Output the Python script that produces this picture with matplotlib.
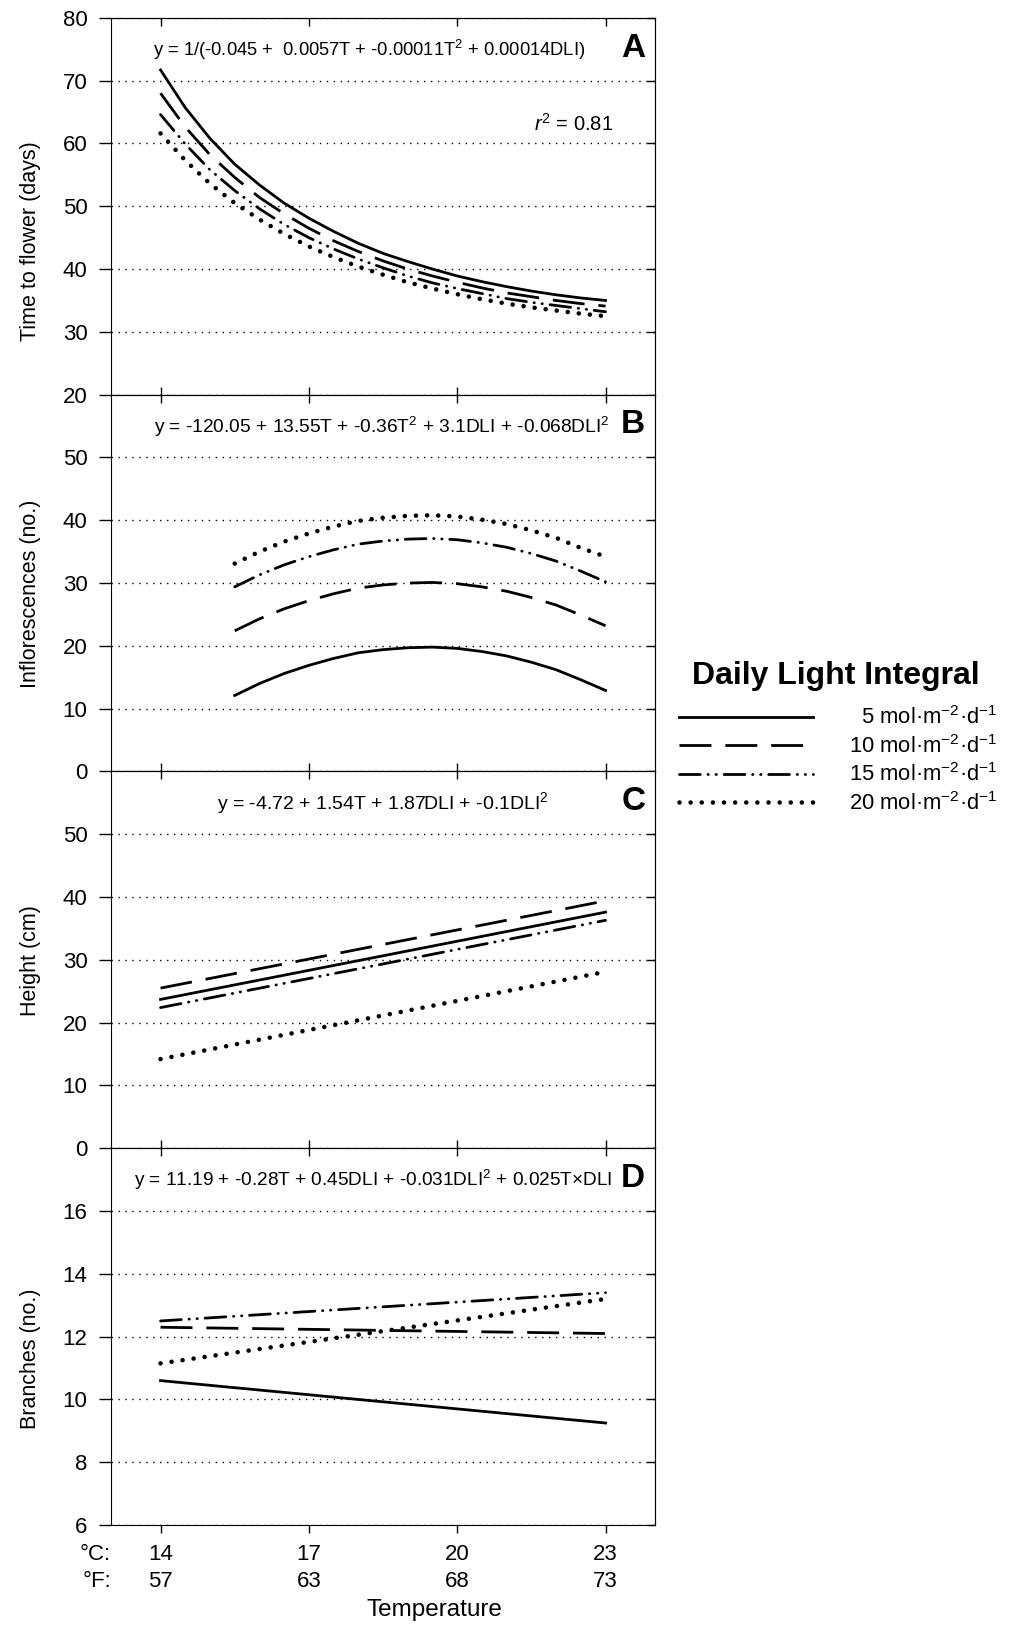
import matplotlib
matplotlib.use('Agg')
import matplotlib.pyplot as plt

plt.rcParams['font.family'] = ['Liberation Sans', 'DejaVu Sans']
plt.rcParams['mathtext.fontset'] = 'custom'
plt.rcParams['mathtext.rm'] = 'Liberation Sans'
plt.rcParams['mathtext.it'] = 'Liberation Sans:italic'
plt.rcParams['lines.scale_dashes'] = False

# temperature (C) and matching F labels
t_ticks = [14, 17, 20, 23]
f_ticks = [57, 63, 68, 73]
dli = [5, 10, 15, 20]

# A: time to flower (days), read every 0.5 C from 14 to 23
t_a = [14, 14.5, 15, 15.5, 16, 16.5, 17, 17.5, 18, 18.5, 19, 19.5, 20, 20.5, 21, 21.5, 22, 22.5, 23]
flower_5 = [71.7, 65.7, 60.8, 56.7, 53.4, 50.5, 48.1, 46.0, 44.1, 42.5, 41.2, 40.0, 38.9, 38.0, 37.2, 36.5, 35.9, 35.4, 35.0]
flower_10 = [68.0, 62.6, 58.2, 54.6, 51.4, 48.8, 46.5, 44.5, 42.8, 41.3, 40.0, 38.9, 37.9, 37.0, 36.2, 35.6, 35.0, 34.5, 34.1]
flower_15 = [64.6, 59.9, 55.8, 52.5, 49.6, 47.1, 45.0, 43.2, 41.6, 40.2, 38.9, 37.8, 36.9, 36.1, 35.3, 34.7, 34.2, 33.7, 33.2]
flower_20 = [61.6, 57.3, 53.6, 50.5, 47.9, 45.6, 43.6, 41.9, 40.4, 39.1, 37.9, 36.9, 36.0, 35.2, 34.5, 33.9, 33.4, 32.9, 32.5]

# B: inflorescences (no.)
t_b = [15.5, 16, 16.5, 17, 17.5, 18, 18.5, 19, 19.5, 20, 20.5, 21, 21.5, 22, 22.5, 23]
infl_5 = [12.1, 14.0, 15.6, 16.9, 18.0, 18.9, 19.4, 19.7, 19.8, 19.6, 19.1, 18.4, 17.4, 16.2, 14.6, 12.9]
infl_10 = [22.4, 24.3, 25.9, 27.2, 28.3, 29.2, 29.7, 30.0, 30.1, 29.9, 29.4, 28.7, 27.7, 26.5, 24.9, 23.2]
infl_15 = [29.4, 31.3, 32.9, 34.2, 35.3, 36.2, 36.7, 37.0, 37.1, 36.9, 36.4, 35.7, 34.7, 33.5, 31.9, 30.2]
infl_20 = [33.1, 35.0, 36.6, 37.9, 39.0, 39.9, 40.4, 40.7, 40.8, 40.6, 40.1, 39.4, 38.4, 37.2, 35.6, 34.2]

# C: height (cm) and D: branches (no.), straight lines
t_cd = [14, 23]
height_5 = [23.7, 37.6]
height_10 = [25.5, 39.4]
height_15 = [22.4, 36.3]
height_20 = [14.2, 28.1]
branch_5 = [10.6, 9.25]
branch_10 = [12.3, 12.1]
branch_15 = [12.5, 13.4]
branch_20 = [11.15, 13.2]

styles = [
    dict(linestyle='-'),
    dict(linestyle=(0, (23, 10))),
    dict(linestyle=(0, (15, 5.5, 0.3, 5.5, 0.3, 5.5)), dash_capstyle='round'),
    dict(linestyle=(0, (0.01, 8)), dash_capstyle='round', linewidth=3.3),
]

panels = [
    (t_a, [flower_5, flower_10, flower_15, flower_20], (20, 80), range(20, 81, 10),
     'Time to flower (days)', 0.407, 'A',
     'y = 1/(-0.045 +  0.0057T + -0.00011T$^2$ + 0.00014DLI)', 0.474, 13.2),
    (t_b, [infl_5, infl_10, infl_15, infl_20], (0, 60), range(0, 51, 10),
     'Inflorescences (no.)', 0.472, 'B',
     'y = -120.05 + 13.55T + -0.36T$^2$ + 3.1DLI + -0.068DLI$^2$', 0.498, 13.8),
    (t_cd, [height_5, height_10, height_15, height_20], (0, 60), range(0, 51, 10),
     'Height (cm)', 0.497, 'C',
     'y = -4.72 + 1.54T + 1.87DLI + -0.1DLI$^2$', 0.5, 14.0),
    (t_cd, [branch_5, branch_10, branch_15, branch_20], (6, 18), range(6, 17, 2),
     'Branches (no.)', 0.441, 'D',
     'y = 11.19 + -0.28T + 0.45DLI + -0.031DLI$^2$ + 0.025T\u00d7DLI', 0.482, 13.7),
]

fig, axes = plt.subplots(4, 1, figsize=(10.1, 16.25), dpi=100, sharex=True)
fig.subplots_adjust(left=0.110, right=0.6485, top=0.989, bottom=0.0615, hspace=0)

for i, (ax, (tx, series, ylim, yt, ylab, ly, letter, eq, ex, efs)) in enumerate(zip(axes, panels)):
    lines = []
    for ys, st in zip(series, styles):
        kw = dict(color='black', linewidth=2.0)
        kw.update(st)
        ln, = ax.plot(tx, ys, **kw)
        lines.append(ln)
    ax.set_ylim(*ylim)
    ax.set_xlim(13, 24)
    ax.set_yticks(list(yt))
    ax.grid(axis='y', linestyle=(0, (1, 4)), color='black', linewidth=1)
    ax.tick_params(axis='y', direction='out', length=9, width=1, labelsize=16, pad=8)
    last = i == len(axes) - 1
    ax.tick_params(axis='x', direction='out' if last else 'inout',
                   length=6 if last else 12, width=1, pad=7.5 if last else 3)
    top = ax.secondary_xaxis('top')
    top.set_xticks(t_ticks)
    top.tick_params(direction='in', length=6, width=1, labeltop=False)
    right = ax.secondary_yaxis('right')
    right.set_yticks(list(yt))
    right.tick_params(direction='in', length=6, width=1, labelright=False)
    ax.set_ylabel(ylab, fontsize=15.5)
    ax.yaxis.set_label_coords(-0.128, ly)
    ax.text(ex, 0.915, eq, transform=ax.transAxes, ha='center', va='center', fontsize=efs)
    ax.text(0.96, 0.92, letter, transform=ax.transAxes, ha='center', va='center',
            fontsize=24, fontweight='bold')
    if i == 0:
        legend_lines = lines

axes[0].text(0.85, 0.72, '$r^2$ = 0.81', transform=axes[0].transAxes,
             ha='center', va='center', fontsize=14.5)

axes[-1].set_xticks(t_ticks)
axes[-1].set_xticklabels([f'{c}\n{f}' for c, f in zip(t_ticks, f_ticks)],
                         fontsize=16, linespacing=1.4)
fig.text(0.110, 0.0435, '\u00b0C:', ha='right', va='center', fontsize=16)
fig.text(0.110, 0.0265, '\u00b0F:', ha='right', va='center', fontsize=16)
fig.text(0.43, 0.0095, 'Temperature', ha='center', va='center', fontsize=17.5)

fig.text(0.828, 0.584, 'Daily Light Integral', ha='center', va='center',
         fontsize=23, fontweight='bold')
labels = ['\u2007' + '5 mol\u00b7m$^{-2}$\u00b7d$^{-1}$' if d == 5 else f'{d} mol\u00b7m$^{{-2}}$\u00b7d$^{{-1}}$'
          for d in dli]
fig.legend(legend_lines, labels, loc='upper left', bbox_to_anchor=(0.672, 0.5653),
           frameon=False, fontsize=15.8, handlelength=6.1, handletextpad=1.65,
           labelspacing=0.26, borderpad=0, borderaxespad=0)

fig.savefig('out.png', dpi=100)
